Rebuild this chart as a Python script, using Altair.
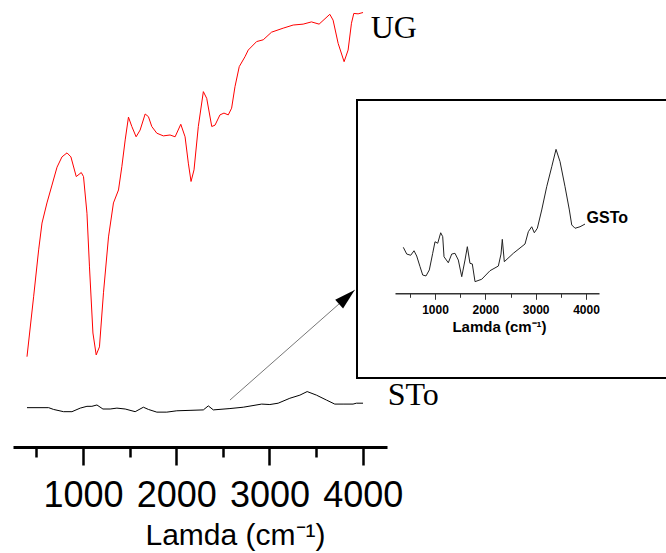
import altair as alt
import pandas as pd

# ---- data (wavenumber cm^-1, transmittance a.u.) ----
ug_wn = [400, 471, 525, 561, 614, 668, 722, 775, 829, 871, 928, 982, 1006, 1043, 1070, 1107, 1142, 1177, 1220, 1274,
         1327, 1381, 1417, 1453, 1488, 1524, 1570, 1613, 1667, 1702, 1738, 1792, 1862, 1934, 1988, 2049, 2095, 2130, 2159, 2191,
         2237, 2291, 2327, 2381, 2416, 2469, 2512, 2558, 2594, 2630, 2676, 2737, 2772, 2862, 2933, 3022, 3147, 3254, 3361, 3450,
         3532, 3647, 3682, 3736, 3800, 3843, 3879, 3904, 3950, 4003]
ug_t = [20.2, 33.6, 44.1, 50.1, 54.6, 58.6, 62.6, 64.9, 65.8, 64.9, 60.5, 61.4, 60.5, 52.3, 40.3, 25.5, 20.6, 22.4, 34.5, 47.0,
        54.6, 57.5, 62.7, 68.7, 73.8, 71.7, 69.4, 70.9, 74.5, 73.9, 71.7, 70.2, 69.6, 69.8, 69.4, 72.2, 69.4, 63.5, 59.4, 62.0,
        71.7, 79.5, 78.0, 71.7, 72.0, 74.3, 74.7, 74.3, 75.8, 80.6, 85.1, 87.3, 88.8, 90.7, 91.1, 92.8, 93.7, 94.4, 94.6, 95.1,
        94.6, 96.8, 95.5, 90.3, 86.2, 88.8, 94.8, 97.0, 96.9, 97.2]

sto_wn = [400, 632, 685, 792, 882, 971, 1043, 1096, 1150, 1214, 1292, 1364, 1453, 1560, 1648, 1702, 1792, 1899, 2006, 2148,
          2291, 2344, 2398, 2576, 2719, 2916, 3004, 3093, 3218, 3326, 3404, 3504, 3611, 3700, 3789, 3896, 3932, 4003]
sto_t = [8.8, 8.8, 8.4, 7.9, 7.9, 8.7, 9.1, 9.1, 9.4, 8.5, 8.5, 8.7, 8.5, 7.9, 8.9, 8.4, 7.8, 7.8, 8.1, 8.2,
         8.3, 9.2, 8.3, 8.6, 8.9, 9.6, 9.5, 9.8, 10.9, 11.6, 12.4, 11.6, 10.5, 9.6, 9.6, 9.6, 9.8, 9.8]

gsto_wn = [370, 438, 517, 583, 636, 702, 756, 821, 887, 954, 1000, 1054, 1113, 1153, 1179, 1264, 1332, 1397, 1463, 1531,
           1596, 1642, 1695, 1741, 1795, 1928, 2093, 2258, 2311, 2337, 2377, 2556, 2788, 2854, 2921, 2973, 3033, 3120, 3219, 3319,
           3404, 3484, 3583, 3669, 3716, 3782, 3881, 3980]
gsto_t = [29.6, 25.1, 24.3, 27.3, 23.8, 16.7, 11.1, 10.5, 14.5, 25.6, 33.3, 32.3, 39.3, 36.7, 23.3, 19.3, 25.1, 25.6, 21.1, 10.0,
          21.1, 30.0, 18.9, 18.5, 6.7, 8.3, 14.0, 17.1, 25.1, 34.9, 20.0, 25.6, 31.8, 40.0, 43.3, 39.3, 42.3, 54.5, 70.0, 83.3,
          94.9, 86.7, 70.0, 54.5, 44.5, 42.3, 43.3, 45.1]

tick_values = [500, 1000, 1500, 2000, 2500, 3000, 3500, 4000]

main_labels = ["UG", "STo"]
main_label_wn = [4085, 4267]
main_label_t = [91.5, 9.4]

inset_label = ["GSTo"]
inset_label_wn = [4010]
inset_label_t = [49]

arrow_wn = [2576]
arrow_t = [10.5]
arrow_wn2 = [3914]
arrow_t2 = [35.1]

# ---- tables ----
ug_df = pd.DataFrame({"wn": ug_wn, "t": ug_t})
sto_df = pd.DataFrame({"wn": sto_wn, "t": sto_t})
gsto_df = pd.DataFrame({"wn": gsto_wn, "t": gsto_t})
lab_df = pd.DataFrame({"wn": main_label_wn, "t": main_label_t, "name": main_labels})
ilab_df = pd.DataFrame({"wn": inset_label_wn, "t": inset_label_t, "name": inset_label})
arrow_df = pd.DataFrame({"wn": arrow_wn, "t": arrow_t, "wn2": arrow_wn2, "t2": arrow_t2})
box_df = pd.DataFrame({"k": [0]})

# ---- main panel ----
main_x_scale = alt.Scale(domain=[250, 4260], nice=False, zero=False)
main_y_scale = alt.Scale(domain=[0, 100], nice=False, zero=False)

main_axis = alt.Axis(
    values=tick_values,
    format="d",
    labelExpr="datum.value % 1000 === 0 ? datum.label : ''",
    tickSize={"condition": {"test": "datum.value % 1000 === 0", "value": 18}, "value": 10},
    tickWidth=2.5, tickColor="black",
    domainWidth=3, domainColor="black",
    labelFont="Liberation Sans", labelFontSize=36, labelColor="black",
    labelBaseline="alphabetic", labelPadding=41,
    labelOverlap=False, labelFlush=False, labelBound=False,
    title="Lamda (cm⁻¹)", titleFont="Liberation Sans", titleFontSize=30,
    titleFontWeight="normal", titleColor="black",
    titleX=222, titleY=97, titleBaseline="alphabetic", titleAlign="center",
    grid=False,
)

ug_line = alt.Chart(ug_df).mark_line(color="#ff0000", strokeWidth=1).encode(
    x=alt.X("wn:Q", scale=main_x_scale, axis=main_axis),
    y=alt.Y("t:Q", scale=main_y_scale, axis=None),
)
sto_line = alt.Chart(sto_df).mark_line(color="black", strokeWidth=1).encode(
    x=alt.X("wn:Q"), y=alt.Y("t:Q"),
)
arrow_line = alt.Chart(arrow_df).mark_rule(color="#777777", strokeWidth=1).encode(
    x=alt.X("wn:Q"), y=alt.Y("t:Q"), x2="wn2:Q", y2="t2:Q",
)
arrow_head = alt.Chart(arrow_df).mark_point(
    shape="M0,0 L0.56,2 L-0.56,2 Z", size=441, angle=48, filled=True,
    color="black", opacity=1,
).encode(x=alt.X("wn2:Q"), y=alt.Y("t2:Q"))
main_text = alt.Chart(lab_df).mark_text(
    font="Liberation Serif", fontSize=32, align="left", baseline="alphabetic", color="black",
).encode(x=alt.X("wn:Q"), y=alt.Y("t:Q"), text="name:N")

main = alt.layer(ug_line, sto_line, arrow_line, arrow_head, main_text)

# ---- inset panel ----
inset_x_scale = alt.Scale(domain=[205, 4258], range=[382, 586], nice=False, zero=False)
inset_y_scale = alt.Scale(domain=[0, 100], range=[291.7, 141.7], nice=False, zero=False)

inset_axis = alt.Axis(
    orient="bottom", offset=-153.7,
    values=tick_values, format="d",
    labelExpr="datum.value % 1000 === 0 ? datum.label : ''",
    tickSize={"condition": {"test": "datum.value % 1000 === 0", "value": 6}, "value": 4},
    tickWidth=1, tickColor="#333333",
    domainColor="#333333", domainWidth=1.5,
    labelFont="Liberation Sans", labelFontSize=12, labelFontWeight="bold", labelColor="black",
    labelBaseline="alphabetic", labelPadding=14,
    labelOverlap=False, labelFlush=False, labelBound=False,
    title="Lamda (cm⁻¹)", titleFont="Liberation Sans", titleFontSize=15,
    titleFontWeight="bold", titleColor="black",
    titleX=486, titleY=38.5, titleBaseline="alphabetic", titleAlign="center",
    grid=False,
)

box = alt.Chart(box_df).mark_rect(filled=False, stroke="black", strokeWidth=2).encode(
    x=alt.value(344), x2=alt.value(662), y=alt.value(100), y2=alt.value(378),
)
gsto_line = alt.Chart(gsto_df).mark_line(color="#222222", strokeWidth=1).encode(
    x=alt.X("wn:Q", scale=inset_x_scale, axis=inset_axis),
    y=alt.Y("t:Q", scale=inset_y_scale, axis=None),
)
inset_text = alt.Chart(ilab_df).mark_text(
    font="Liberation Sans", fontSize=16, fontWeight="bold", align="left", baseline="middle", color="black",
).encode(x=alt.X("wn:Q"), y=alt.Y("t:Q"), text="name:N")

inset = alt.layer(box, gsto_line, inset_text)

chart = alt.layer(main, inset).resolve_scale(
    x="independent", y="independent"
).resolve_axis(
    x="independent", y="independent"
).properties(
    width=374, height=447,
    padding={"left": 13, "top": 0, "right": 279, "bottom": 106},
    autosize="none",
    background="white",
).configure_view(stroke="transparent", strokeWidth=0)

chart.save("out.html", embed_options={"renderer": "svg", "actions": False})
